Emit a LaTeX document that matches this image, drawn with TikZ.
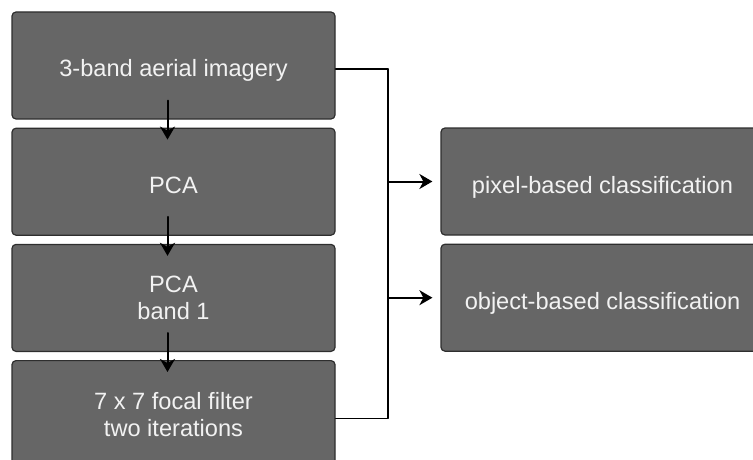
\documentclass[tikz,border=0pt]{standalone}
\usepackage{fontspec}
\setmainfont{Liberation Sans}
\usetikzlibrary{arrows.meta,positioning}

\definecolor{boxgray}{HTML}{666666}
\definecolor{edgegray}{HTML}{2E2E2E}
\definecolor{labelgray}{HTML}{F2F2F2}

\begin{document}
\begin{tikzpicture}[x=1pt, y=-1pt, line cap=round, line join=round,
    stage/.style={draw=edgegray, fill=boxgray, rounded corners=4pt, line width=1.2pt,
        minimum width=323pt, minimum height=107pt, inner sep=0pt,
        text=labelgray, align=center, font=\fontsize{23.6}{27}\selectfont},
    oneline/.style={text height=23pt, text depth=0pt},
    flow/.style={-{Stealth[length=13pt,width=15pt,inset=4pt]}, line width=2pt},
    link/.style={line width=1.3pt, draw=black}]

\useasboundingbox (0,0) rectangle (753,460);

% Processing chain ------------------------------
\node[stage, oneline] (imagery) at (173.5,65.5) {3-band aerial imagery};
\node[stage, oneline, below=8pt of imagery] (pca) {PCA};
\node[stage, below=8pt of pca] (band) {PCA\\band 1};
\node[stage, below=8pt of band] (focal) {7 x 7 focal filter\\two iterations};

\draw[flow] ([shift={(-6pt,19pt)}]imagery.south) -- ([shift={(-6pt,-12pt)}]pca.north);
\draw[flow] ([shift={(-6pt,19pt)}]pca.south) -- ([shift={(-6pt,-12pt)}]band.north);
\draw[flow] ([shift={(-6pt,19pt)}]band.south) -- ([shift={(-6pt,-12pt)}]focal.north);

% Classifications -------------------------------
\node[stage, oneline] (pixel) at (602.5,181.5) {pixel-based classification};
\node[stage, oneline, below=8pt of pixel] (object) {object-based classification};

% Bracket + arrows ------------------------------
\coordinate (bus) at (388,69);
\draw[link] ([yshift=-3.5pt]imagery.east) -- (bus)
    -- (bus |- focal.east) ++(0,4.5) coordinate (busend);
\draw[link] (bus) -- (busend) -- ([yshift=-4.5pt]focal.east);

\draw[flow, shorten >=8pt] (bus |- pixel.west) -- (pixel.west);
\draw[flow, shorten >=8pt] (bus |- object.west) -- (object.west);

\end{tikzpicture}
\end{document}
